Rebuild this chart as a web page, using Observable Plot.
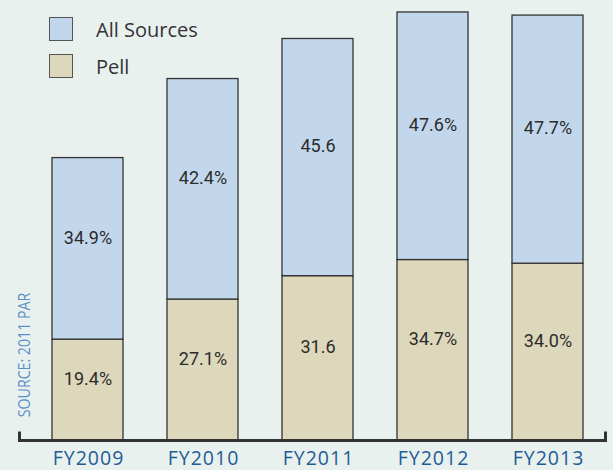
<!DOCTYPE html>
<html><head><meta charset="utf-8">
<script src="https://cdn.jsdelivr.net/npm/d3@7"></script>
<script src="https://cdn.jsdelivr.net/npm/@observablehq/plot@0.6"></script>
<style>
html,body{margin:0;padding:0;background:#e9f1ef;}
#wrap{position:relative;width:613px;height:470px;overflow:hidden;background:#e9f1ef;}
.leg{position:absolute;left:49px;height:24px;display:flex;align-items:center;font-family:"Open Sans",sans-serif;font-size:20px;color:#333;white-space:nowrap;}
.sw{width:24px;height:24px;border:1.5px solid #555;box-sizing:border-box;margin-right:23px;flex:none;}
#src{position:absolute;left:22.7px;top:354.5px;transform:translate(-50%,-50%) rotate(-90deg) scaleX(0.86);font-family:"Open Sans",sans-serif;font-size:16.5px;color:#5b8fc9;white-space:nowrap;}
#chart{position:absolute;left:0;top:0;}
</style>
</head><body>
<div id="wrap">
  <div id="chart"></div>
  <div class="leg" style="top:17px"><div class="sw" style="background:#c3d7ec"></div>All Sources</div>
  <div class="leg" style="top:54px"><div class="sw" style="background:#ddd8bb"></div>Pell</div>
  <div id="src">SOURCE: 2011 PAR</div>
</div>
<script>
const years = ["FY2009", "FY2010", "FY2011", "FY2012", "FY2013"];
const pell = [19.4, 27.1, 31.6, 34.7, 34.0];
const allSources = [34.9, 42.4, 45.6, 47.6, 47.7];
const pellLabels = ["19.4%", "27.1%", "31.6", "34.7%", "34.0%"];
const allLabels = ["34.9%", "42.4%", "45.6", "47.6%", "47.7%"];

const blue = "#c3d7ec", tan = "#ddd8bb";

const segs = [];
years.forEach((y, i) => {
  segs.push({year: y, series: "Pell", y1: 0, y2: pell[i], label: pellLabels[i]});
  segs.push({year: y, series: "All Sources", y1: pell[i], y2: pell[i] + allSources[i], label: allLabels[i]});
});

const plot = Plot.plot({
  width: 613,
  height: 470,
  marginTop: 0,
  marginBottom: 30,
  marginLeft: 18,
  marginRight: 6,
  style: {background: "transparent", fontFamily: "Open Sans, sans-serif", overflow: "visible"},
  x: {domain: years, paddingInner: 0.38, paddingOuter: 0.242, align: 0.59, label: null},
  y: {domain: [0, 84.6], axis: null},
  color: {domain: ["Pell", "All Sources"], range: [tan, blue]},
  marks: [
    Plot.barY(segs, {x: "year", y1: "y1", y2: "y2", fill: "series", stroke: "#333", strokeWidth: 1.3}),
    Plot.text(segs, {x: "year", y: d => (d.y1 + d.y2) / 2, text: "label", dy: -11, fontSize: 18, fontFamily: "Roboto, sans-serif", fill: "#2b2b2b"}),
    Plot.ruleY([0], {stroke: "#333", strokeWidth: 3}),
    Plot.axisX({tickSize: 0, tickPadding: 11, fontSize: 19.5, color: "#1f5c96", label: null})
  ]
});
document.getElementById("chart").appendChild(plot);

const svg = d3.select(plot);
svg.selectAll("[aria-label='x-axis tick label'] text, g[aria-label^='x-axis'] text")
  .style("letter-spacing", "1px").attr("dx", "0.5");

const xr = plot.scale("x").range;
const y0 = plot.scale("y").apply(0);
[xr[0] + 1.5, xr[1] - 1.5].forEach(x => {
  svg.append("line").attr("x1", x).attr("x2", x).attr("y1", y0 - 8.5).attr("y2", y0 + 1.5)
    .attr("stroke", "#333").attr("stroke-width", 3);
});
</script>
</body></html>
